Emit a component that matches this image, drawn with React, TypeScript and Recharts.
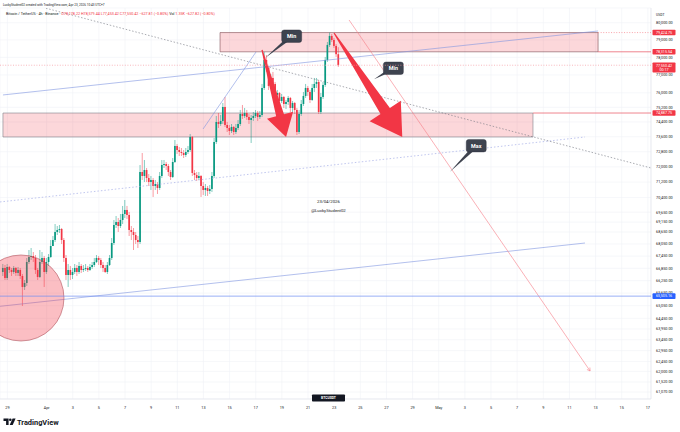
import {
  ComposedChart,
  Bar,
  XAxis,
  YAxis,
  CartesianGrid,
  ReferenceArea,
  ReferenceLine,
  ReferenceDot,
} from 'recharts';

const FONT = "Roboto, 'Liberation Sans', Arial, sans-serif";
const UP = '#089981';
const DOWN = '#f23645';
const INK = '#131722';

// BTCUSDT 4h candles, first bar Mar 28 16:00 (day 0 = Mar 29 00:00)
const firstOpen = 66673;
const closes = [
  66868, 66380, 66916, 66770, 66672, 66868, 66624, 66770, 66477, 65945,
  66138, 67161, 67407, 67456, 67358, 66770, 66429, 67161, 67358, 66672,
  67161, 67407, 67950, 68249, 68650, 68750, 68800, 68249, 67358, 66526,
  66770, 66526, 66672, 66868, 66672, 66965, 66770, 66819, 66868, 66770,
  66916, 67014, 67161, 67358, 67259, 67014, 66868, 66672, 67014, 67358,
  68099, 69002, 69154, 68951, 69255, 69560, 69764, 69509, 68750, 68650,
  68499, 68249, 68149, 71728, 71519, 71833, 71414, 71206, 71310, 70998,
  71102, 70894, 71519, 72096, 72149, 72043, 71728, 71467, 72254, 73105,
  72891, 72785, 72731, 72625, 72785, 72891, 73588, 71676, 71571, 71414,
  71519, 70998, 70791, 70894, 70739, 70843, 71519, 73319, 74399, 74290,
  74454, 75220, 74236, 74073, 73911, 74128, 73857, 74073, 74290, 74836,
  74726, 74890, 74672, 74508, 74617, 74726, 74890, 74672, 74781, 76272,
  77850, 77396, 76384, 76832, 76496, 75883, 75994, 75551, 75772, 75385,
  75496, 75717, 75165, 75440, 75055, 73857, 74836, 75385, 75828, 76272,
  76050, 75606, 76272, 76496, 76608, 74945, 75772, 76440, 77850, 78708,
  79228, 78996, 78651, 78178.22, 77550.42,
];
const highs = [
  67063, 67014, 67063, 66965, 66868, 66965, 66916, 66916, 66868, 66575,
  66283, 67358, 67752, 67851, 67653, 67505, 66868, 67752, 67653, 67456,
  67358, 67554, 68249, 68449, 69052, 68951, 69002, 68850, 68349, 67505,
  67063, 66965, 66868, 67063, 67014, 67161, 67063, 67014, 67063, 66965,
  67063, 67161, 67358, 67505, 67456, 67358, 67161, 67014, 67161, 67505,
  68349, 69255, 69458, 69356, 69560, 69969, 70276, 69969, 69662, 68951,
  68850, 68650, 68449, 72096, 72731, 72360, 71938, 71623, 71519, 71414,
  71310, 71206, 71728, 72360, 72360, 72254, 72149, 71833, 72466, 73426,
  73212, 73052, 72997, 72891, 72997, 73105, 73749, 73641, 71833, 71728,
  71728, 71571, 71206, 71102, 70998, 71050, 71728, 73534, 74727, 74890,
  74781, 75440, 75772, 74399, 74236, 74290, 74182, 74290, 74508, 75055,
  75330, 75165, 75055, 74836, 74781, 74945, 75055, 75000, 75000, 76496,
  78307, 78135, 77509, 77057, 77170, 76608, 76161, 76050, 75939, 75828,
  75606, 75828, 75772, 75551, 75496, 75165, 75055, 75606, 76050, 76496,
  76384, 76161, 76496, 76832, 76832, 76720, 75994, 76608, 78021, 78881,
  79424.75, 79343, 79111, 78766, 78579.44,
];
const lows = [
  66477, 66283, 66283, 66624, 66477, 66575, 66477, 66477, 66332, 65036,
  65800, 65993, 67063, 67259, 67161, 66575, 66283, 66380, 67063, 65945,
  66575, 66965, 67358, 67950, 68149, 68499, 68599, 68050, 67161, 66283,
  65945, 66283, 66332, 66575, 66477, 66575, 66624, 66672, 66721, 66672,
  66721, 66819, 66916, 67112, 67014, 66868, 66672, 66624, 66575, 66965,
  67259, 68000, 68850, 68650, 68850, 69052, 69356, 69306, 68449, 68249,
  67752, 68050, 67851, 68050, 71310, 71206, 71206, 70998, 70791, 70430,
  70791, 70585, 70791, 71414, 71938, 71833, 71519, 71310, 71414, 72201,
  72678, 72572, 72572, 72466, 72519, 72678, 72785, 71519, 71310, 71258,
  71310, 70430, 70533, 70482, 70482, 70585, 70688, 71414, 73212, 74073,
  74182, 74290, 74128, 73857, 73695, 73803, 73695, 73749, 73965, 74182,
  74562, 74617, 74508, 74290, 73265, 74454, 74617, 74454, 74562, 74672,
  76161, 77170, 76161, 76272, 76272, 75661, 75606, 75385, 75440, 75165,
  75110, 75330, 74945, 74945, 74836, 73695, 73749, 74726, 75275, 75717,
  75828, 75440, 75551, 76050, 76272, 74836, 74836, 75661, 76328, 77736,
  78593, 78881, 78536, 78021, 77453.42,
];

const candles = closes.map((close, i) => ({
  t: -1 / 3 + i / 6,
  open: i === 0 ? firstOpen : closes[i - 1],
  close,
  high: highs[i],
  low: lows[i],
  range: [lows[i], highs[i]],
}));

// time axis (days from Mar 29)
const xTickDays = [0, 3, 5, 7, 9, 11, 13, 15, 17, 19, 21, 23, 25, 27, 29, 31, 33, 35, 37, 39, 41, 43, 45, 47, 49];
const xTickLabels = ['29', 'Apr', '3', '5', '7', '9', '11', '13', '15', '17', '19', '21', '23', '25', '27', '29', 'May', '3', '5', '7', '9', '11', '13', '15', '17'];
const yTicks = [
  80000, 79000, 78000, 77000, 76000, 75200, 74400, 73600, 72800, 72000, 71200, 70400,
  69650, 69150, 68650, 68050, 67450, 66850, 66250, 65650, 65050, 64450, 63950, 63450,
  62950, 62450, 62000, 61520, 61070,
];
const X_MIN = -0.566;
const X_MAX = 49.24;
const Y_MIN = 60760;
const Y_MAX = 80864;

// drawings, in (day, price)
const zoneTop = { x1: 16.27, x2: 45.19, y1: 78315.54, y2: 79424.75 };
const zoneMid = { x1: -0.34, x2: 40.21, y1: 73587, y2: 74887.75 };
const channelUpper = [{ x: -0.34, y: 75883 }, { x: 45.19, y: 79517 }];
const channelLower = [{ x: -0.566, y: 65020 }, { x: 44.19, y: 68099 }];
const legLine = [{ x: 14.97, y: 74019 }, { x: 19.02, y: 78306 }];
const dottedSupport = [{ x: -0.566, y: 70174 }, { x: 44.19, y: 73587 }];
const dashedTrend = [{ x: 2.95, y: 80850 }, { x: 49.24, y: 71938 }];
const pinkRay = [{ x: 26.14, y: 80158 }, { x: 44.58, y: 62018 }];
const arrowA = [{ x: 19.48, y: 78421 }, { x: 21.32, y: 73587 }];
const arrowB = [{ x: 24.99, y: 79401 }, { x: 30.21, y: 73587 }];
const calloutMin1 = [{ x: 19.71, y: 77964 }, { x: 21.75, y: 79216 }];
const calloutMin2 = [{ x: 28.05, y: 76760 }, { x: 29.53, y: 77379 }];
const calloutMax = [{ x: 33.86, y: 71744 }, { x: 35.87, y: 73121 }];
const circleAt = { x: 1.04, y: 65416 };

const fmt = (v: number) => v.toLocaleString('en-US', { minimumFractionDigits: 2, maximumFractionDigits: 2 });

function Candle(props: any) {
  const { x, y, width, height, payload } = props;
  if (!payload) return null;
  const { open, close, high, low } = payload;
  const top = Math.min(y, y + height);
  const h = Math.abs(height);
  const cx = x + width / 2;
  const lh = Math.log(high);
  const span = lh - Math.log(low) || 1;
  const py = (v: number) => top + ((lh - Math.log(v)) / span) * h;
  const color = close >= open ? UP : DOWN;
  const b1 = py(Math.max(open, close));
  const b2 = py(Math.min(open, close));
  return (
    <g>
      <line x1={cx} x2={cx} y1={top} y2={top + h} stroke={color} strokeWidth={0.5} />
      <rect x={cx - 0.85} y={b1} width={1.7} height={Math.max(b2 - b1, 0.5)} fill={color} />
    </g>
  );
}

const arrowShape = (p: any) => {
  const { x1, y1, x2, y2 } = p;
  const dx = x2 - x1;
  const dy = y2 - y1;
  const L = Math.hypot(dx, dy) || 1;
  const ux = dx / L, uy = dy / L, nx = -uy, ny = ux;
  const hl = L * 0.25, hw = L * 0.15, sw = L * 0.045, tw = 0.6;
  const bx = x2 - ux * hl, by = y2 - uy * hl;
  const pts = [
    [x1 + nx * tw, y1 + ny * tw],
    [bx + nx * sw, by + ny * sw],
    [bx + nx * hw, by + ny * hw],
    [x2, y2],
    [bx - nx * hw, by - ny * hw],
    [bx - nx * sw, by - ny * sw],
    [x1 - nx * tw, y1 - ny * tw],
  ];
  return <polygon points={pts.map((q) => q.join(',')).join(' ')} fill={DOWN} />;
};

const rayShape = (p: any) => {
  const { x1, y1, x2, y2 } = p;
  const L = Math.hypot(x2 - x1, y2 - y1) || 1;
  const ux = (x2 - x1) / L, uy = (y2 - y1) / L;
  const a = 3;
  return (
    <g stroke="#f77c87" strokeWidth={0.6} fill="none">
      <line x1={x1} y1={y1} x2={x2} y2={y2} />
      <polyline
        points={`${x2 - ux * a - uy * a * 0.6},${y2 - uy * a + ux * a * 0.6} ${x2},${y2} ${x2 - ux * a + uy * a * 0.6},${y2 - uy * a - ux * a * 0.6}`}
      />
    </g>
  );
};

const callout = (text: string) => (p: any) => {
  const { x1, y1, x2, y2 } = p;
  const w = 20, h = 12.5;
  const dx = x1 - x2, dy = y1 - y2;
  const L = Math.hypot(dx, dy) || 1;
  const nx = -dy / L, ny = dx / L;
  return (
    <g>
      <polygon points={`${x1},${y1} ${x2 + nx * 2.2},${y2 + ny * 2.2} ${x2 - nx * 2.2},${y2 - ny * 2.2}`} fill="#3e434f" />
      <rect x={x2 - w / 2} y={y2 - h / 2} width={w} height={h} rx={2.5} fill="#3e434f" stroke="#2a2e39" strokeWidth={0.4} />
      <text x={x2} y={y2} dy="0.36em" textAnchor="middle" fontSize={5.4} fontWeight="bold" fill="#ffffff" fontFamily={FONT}>
        {text}
      </text>
    </g>
  );
};

const axisTag = (lines: string[], color: string, lineColor: string, dash?: string) => (p: any) => {
  const { x1, y1, x2, y2 } = p;
  const h = lines.length > 1 ? 10 : 5.6;
  return (
    <g>
      <line x1={x1} y1={y1} x2={x2} y2={y2} stroke={lineColor} strokeWidth={0.7} strokeDasharray={dash} />
      <rect x={x2 + 1.5} y={y2 - 2.8} width={23} height={h} rx={0.8} fill={color} />
      {lines.map((s, k) => (
        <text key={k} x={x2 + 13} y={y2 + k * 4.5} dy="0.35em" textAnchor="middle" fontSize={3.7} fill="#ffffff" fontFamily={FONT}>
          {s}
        </text>
      ))}
    </g>
  );
};

export default function App() {
  return (
    <div style={{ position: 'absolute', left: 0, top: 0, width: 680, height: 432, background: '#ffffff', overflow: 'hidden' }}>
      <ComposedChart width={680} height={432} data={candles} margin={{ top: 8, right: 0, bottom: 20, left: 0 }}>
        <CartesianGrid stroke="#f0f2f6" strokeWidth={0.6} />
        <XAxis
          type="number"
          dataKey="t"
          domain={[X_MIN, X_MAX]}
          allowDataOverflow
          ticks={xTickDays}
          interval={0}
          tickFormatter={(v: number) => xTickLabels[xTickDays.indexOf(v)] ?? ''}
          height={13}
          tickSize={0}
          tickMargin={7}
          tickLine={false}
          axisLine={{ stroke: '#e0e3eb', strokeWidth: 0.6 }}
          tick={{ fontSize: 3.8, fill: INK, fontFamily: FONT }}
        />
        <YAxis
          orientation="right"
          scale="log"
          domain={[Y_MIN, Y_MAX]}
          allowDataOverflow
          ticks={yTicks}
          interval={0}
          tickFormatter={fmt}
          width={29}
          tickSize={0}
          tickMargin={5}
          tickLine={false}
          axisLine={{ stroke: '#e0e3eb', strokeWidth: 0.6 }}
          tick={{ fontSize: 3.8, fill: INK, fontFamily: FONT }}
        />

        <ReferenceArea {...zoneMid} fill={DOWN} fillOpacity={0.2} stroke="#7d808a" strokeWidth={0.6} ifOverflow="hidden" />
        <ReferenceArea {...zoneTop} fill={DOWN} fillOpacity={0.2} stroke="#7e4c52" strokeWidth={0.6} ifOverflow="hidden" />

        <Bar dataKey="range" shape={Candle} barSize={1.7} isAnimationActive={false} />

        <ReferenceDot {...circleAt} r={43} fill={DOWN} fillOpacity={0.32} stroke="#b0505a" strokeWidth={0.6} ifOverflow="hidden" />

        <ReferenceLine segment={channelUpper} stroke="#7f95e0" strokeWidth={0.6} ifOverflow="hidden" />
        <ReferenceLine segment={channelLower} stroke="#7f95e0" strokeWidth={0.6} ifOverflow="hidden" />
        <ReferenceLine segment={legLine} stroke="#7f95e0" strokeWidth={0.6} ifOverflow="hidden" />
        <ReferenceLine segment={dottedSupport} stroke="#a5aee6" strokeWidth={0.7} strokeDasharray="1.5 2" ifOverflow="hidden" />
        <ReferenceLine segment={dashedTrend} stroke="#70747e" strokeWidth={0.6} strokeDasharray="1.5 1.8" ifOverflow="hidden" />
        <ReferenceLine segment={pinkRay} shape={rayShape} ifOverflow="hidden" />

        <ReferenceLine segment={arrowA} shape={arrowShape} ifOverflow="hidden" />
        <ReferenceLine segment={arrowB} shape={arrowShape} ifOverflow="hidden" />

        <ReferenceLine segment={calloutMin1} shape={callout('Min')} ifOverflow="hidden" />
        <ReferenceLine segment={calloutMin2} shape={callout('Min')} ifOverflow="hidden" />
        <ReferenceLine segment={calloutMax} shape={callout('Max')} ifOverflow="hidden" />

        <ReferenceLine
          segment={[{ x: zoneTop.x2, y: 79424.75 }, { x: X_MAX, y: 79424.75 }]}
          shape={axisTag([fmt(79424.75)], DOWN, '#f77c87', '1 1.6')}
          ifOverflow="visible"
          zIndex={2000}
        />
        <ReferenceLine
          segment={[{ x: zoneTop.x2, y: 78315.54 }, { x: X_MAX, y: 78315.54 }]}
          shape={axisTag([fmt(78315.54)], DOWN, '#e8505e')}
          ifOverflow="visible"
          zIndex={2000}
        />
        <ReferenceLine
          segment={[{ x: X_MIN, y: 77550.42 }, { x: X_MAX, y: 77550.42 }]}
          shape={axisTag([fmt(77550.42), '00:17'], DOWN, '#f59aa2', '1 1.6')}
          ifOverflow="visible"
          zIndex={2000}
        />
        <ReferenceLine
          segment={[{ x: zoneMid.x2, y: 74887.75 }, { x: X_MAX, y: 74887.75 }]}
          shape={axisTag([fmt(74887.75)], DOWN, '#e8505e')}
          ifOverflow="visible"
          zIndex={2000}
        />
        <ReferenceLine
          segment={[{ x: X_MIN, y: 65505.16 }, { x: X_MAX, y: 65505.16 }]}
          shape={axisTag([fmt(65505.16)], '#2962ff', '#6c8cf0')}
          ifOverflow="visible"
          zIndex={2000}
        />
      </ComposedChart>

      <svg width={680} height={432} style={{ position: 'absolute', left: 0, top: 0, pointerEvents: 'none' }} fontFamily={FONT}>
        <text x={3} y={5.8} fontSize={3.1} fill={INK}>
          LuckyStudent02 created with TradingView.com, Apr 23, 2026 10:43 UTC+7
        </text>
        <text x={6} y={15.2} fontSize={3.7} fill={INK}>
          Bitcoin / TetherUS · 4h · Binance ·
          <tspan fill={DOWN}> O78,178.22 H78,579.44 L77,453.42 C77,550.42 −627.81 (−0.80%)</tspan>
          <tspan fill={INK}> Vol </tspan>
          <tspan fill={DOWN}>1.35K −627.82 (−0.80%)</tspan>
        </text>
        <text x={656} y={15.5} fontSize={3.4} fill={INK}>USDT</text>

        <text x={328.5} y={202.8} fontSize={4.3} textAnchor="middle" fill={INK}>23/04/2026</text>
        <text x={328.5} y={211.8} fontSize={4.3} textAnchor="middle" fill={INK}>@LuckyStudent02</text>

        <rect x={312} y={394.5} width={33} height={7} rx={0.8} fill="#131722" />
        <text x={328.5} y={398} dy="0.35em" fontSize={3.4} fontWeight="bold" textAnchor="middle" fill="#ffffff">BTCUSDT</text>

        <g fill={INK}>
          <path d="M3.5 418.5 H8.6 V425 H6.1 V421 H3.5 Z" />
          <circle cx={10.3} cy={419.8} r={1.3} />
          <path d="M12.6 418.5 H15.6 L12.7 425 H9.7 Z" />
        </g>
        <text x={17} y={424.8} fontSize={7.4} fontWeight="bold" fill={INK}>TradingView</text>
      </svg>
    </div>
  );
}
